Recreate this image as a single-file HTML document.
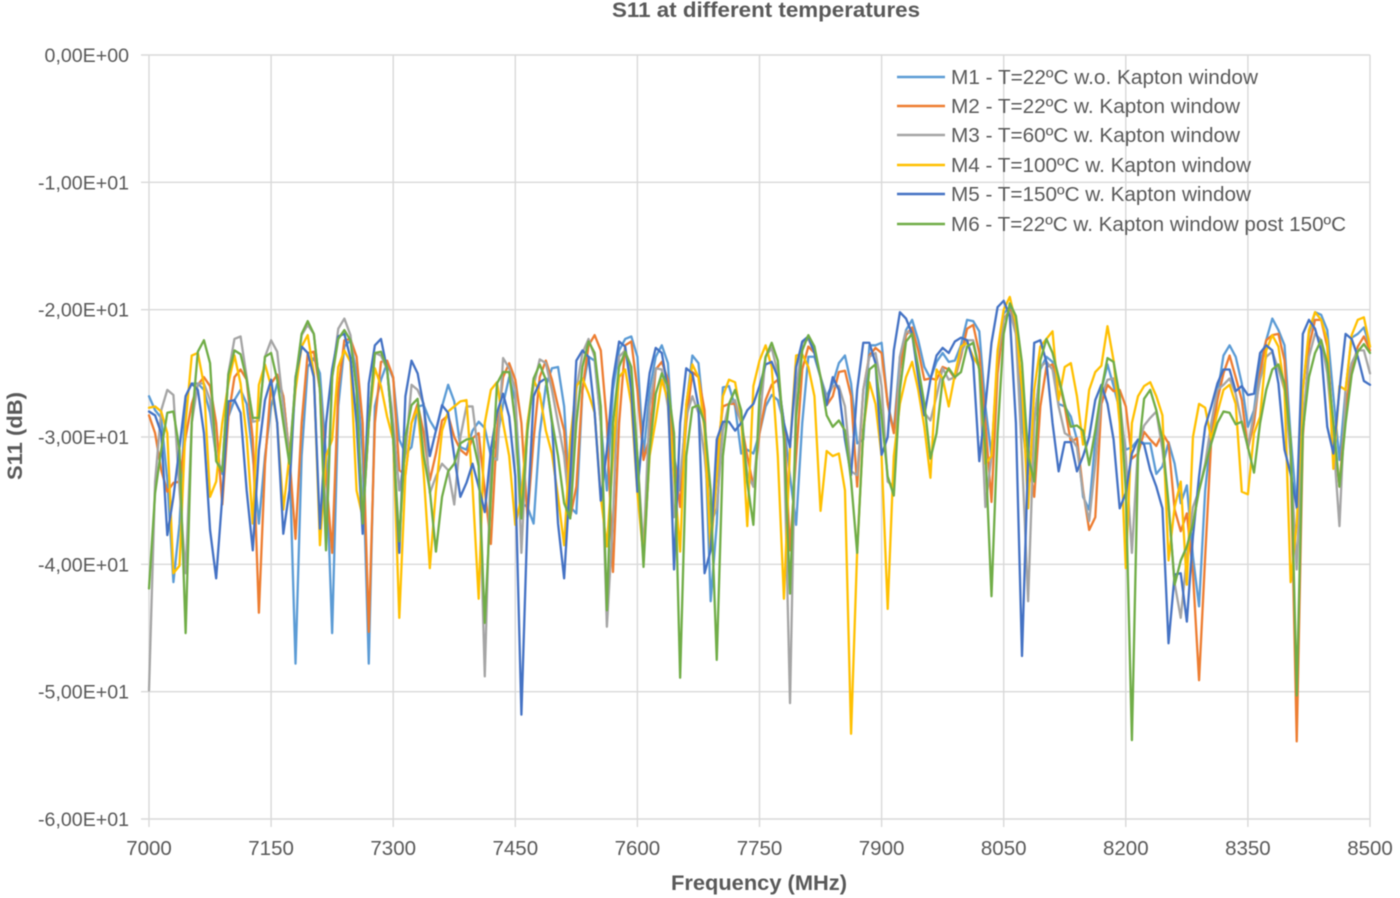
<!DOCTYPE html>
<html lang="en">
<head>
<meta charset="utf-8">
<title>S11 at different temperatures</title>
<style>
html,body{margin:0;padding:0;background:#fff;}
body{width:1400px;height:898px;overflow:hidden;}
svg{display:block;font-family:"Liberation Sans",sans-serif;filter:blur(0.5px);}
</style>
</head>
<body>
<svg id="chart" xmlns="http://www.w3.org/2000/svg" width="1400" height="898" viewBox="0 0 1400 898">
  <rect width="1400" height="898" fill="#fff"/>
  <g id="grid"></g>
  <g id="series"></g>
  <g id="yticks"></g>
  <g id="xticks"></g>
  <g id="legend"></g>
  <text x="766" y="17" text-anchor="middle" font-size="21" font-weight="bold" fill="#595959" textLength="308" lengthAdjust="spacingAndGlyphs">S11 at different temperatures</text>
  <text x="759" y="890" text-anchor="middle" font-size="21" font-weight="bold" fill="#595959" textLength="176" lengthAdjust="spacingAndGlyphs">Frequency (MHz)</text>
  <text transform="translate(22,436) rotate(-90)" text-anchor="middle" font-size="21" font-weight="bold" fill="#595959" textLength="88" lengthAdjust="spacingAndGlyphs">S11 (dB)</text>
</svg>
<script>
const xStart = 7000;
const xStep = 7.5;
const xTickLabels = [7000,7150,7300,7450,7600,7750,7900,8050,8200,8350,8500];
const yTickValues = [0,-10,-20,-30,-40,-50,-60];
const yTickLabels = ["0,00E+00","-1,00E+01","-2,00E+01","-3,00E+01","-4,00E+01","-5,00E+01","-6,00E+01"];
const seriesNames = ["M1 - T=22ºC w.o. Kapton window","M2 - T=22ºC w. Kapton window","M3 - T=60ºC w. Kapton window","M4 - T=100ºC w. Kapton window","M5 - T=150ºC w. Kapton window","M6 - T=22ºC w. Kapton window post 150ºC"];
const seriesColors = ["#5b9bd5","#ed7d31","#a5a5a5","#ffc000","#4472c4","#70ad47"];
const legendWidths = [307,289,289,300,300,395];

const m1 = [-26.8,-27.9,-28.5,-33.4,-41.4,-36.8,-26.8,-25.8,-25.8,-26.3,
-28.1,-31.5,-32.9,-28.4,-27.1,-26.3,-27.4,-31.5,-36.8,-31.5,
-27.6,-25.8,-26.8,-31.5,-47.8,-31.5,-24.5,-23.8,-25,-31.5,
-45.4,-27.6,-22.9,-22.4,-25,-31.5,-47.8,-27.6,-25.5,-24.2,
-25.4,-30.2,-31.3,-30.8,-27.6,-27.5,-28.7,-29.5,-27.6,-25.9,
-27.2,-30.8,-31,-29.5,-28.8,-29.3,-31.5,-30.2,-27.4,-25.3,
-27.1,-35.2,-35.5,-36.8,-29.7,-26,-24.6,-24.5,-27.6,-35.5,
-36,-26.3,-23.7,-24,-28.9,-34.2,-26.3,-23.2,-22.3,-22.1,
-23.7,-31.5,-26.3,-23.7,-22.8,-24.2,-31.5,-34.2,-27.6,-23.6,
-24.2,-28.9,-42.9,-36.8,-26.1,-26,-27.6,-31.3,-31,-31.3,
-29.7,-27.6,-26.7,-27.1,-28.9,-33.1,-36.9,-28.9,-23.7,-23.7,
-25.3,-26.8,-25.8,-24.2,-23.6,-25.8,-30.5,-30.2,-22.8,-22.8,
-22.6,-27.4,-29.5,-23.7,-21.6,-20.8,-22.4,-24.5,-25.4,-24.1,
-23.4,-24.1,-24,-22.8,-20.8,-20.9,-21.7,-27.6,-31.5,-24.2,
-20.3,-19.8,-21.3,-28.9,-32.9,-28.9,-24.7,-23.7,-24.1,-27.4,
-27.6,-28.4,-30.2,-34.7,-35.7,-30.2,-26.3,-24.3,-26,-27.9,
-31,-30.8,-30.2,-30.5,-30.5,-32.9,-32.3,-30.4,-32.1,-35.2,
-33.8,-39.4,-43.3,-34.2,-29.7,-26.6,-23.6,-22.8,-23.7,-25.8,
-29.2,-27.9,-24.2,-22.4,-20.7,-21.6,-22.8,-30,-35.6,-26.3,
-21.9,-20.2,-20.4,-21.6,-26.8,-31.8,-26.3,-22.2,-21.9,-21.4,-22.9];

const m2 = [-28.3,-29.7,-32.6,-34.3,-33.6,-33.5,-30,-27.4,-25.9,-25.3,
-26,-28.9,-35.3,-28.4,-25.3,-24.7,-25.5,-30.2,-43.8,-32.1,
-25.8,-25.1,-26.8,-31.5,-38,-28.9,-23.4,-23.3,-26.3,-33.1,
-39.1,-26.3,-22.4,-22.3,-23.7,-28.9,-45.3,-28.9,-24.1,-24,
-25.3,-32.6,-33,-28.9,-27.4,-29.7,-33.4,-31.3,-28.7,-28.3,
-30,-31,-31.4,-30.1,-29.7,-34.2,-38.4,-29.5,-25.3,-24.2,
-25.5,-28.9,-36.3,-30.2,-25.3,-24,-25.5,-27.6,-29.5,-36.3,
-33.9,-26.3,-22.8,-22,-23.2,-28.9,-40.6,-28.9,-22.8,-22.5,
-26.3,-31.8,-30,-24.7,-24.1,-25.5,-31.5,-35.5,-28.9,-24.9,
-25.3,-27.9,-38.9,-31.5,-27.6,-27.4,-27.4,-28.9,-31.5,-33.9,
-29.7,-27.1,-25.9,-25.5,-28.9,-38.9,-31.5,-24.7,-22.9,-23.4,
-25.3,-27.5,-26.8,-24.9,-24.8,-26.8,-33.9,-26.3,-23.6,-23,
-23.4,-27.4,-29.7,-24.7,-22,-21.4,-23.2,-25.5,-25.4,-25.5,
-24.5,-24.7,-25.4,-23.7,-21.5,-21.2,-23.4,-28.9,-35.1,-25,
-20.8,-20,-21.9,-26.3,-31.5,-34.7,-27.6,-24.5,-24.3,-25.5,
-27.6,-30.4,-30.1,-34.2,-37.3,-36.3,-27.4,-25.9,-26.4,-26.3,
-27.6,-31.7,-31.3,-29.6,-30.2,-30.7,-29.7,-30.5,-35.7,-37.4,
-36,-40.7,-49.1,-39.4,-30.2,-27.1,-25,-23.6,-25.3,-27.1,
-30.9,-28.9,-25,-22.4,-22,-21.9,-24,-31.5,-53.9,-30,
-22.9,-20.8,-20.8,-22.9,-29.7,-33.9,-27.6,-24.7,-22.9,-22.1,-23.2];

const m3 = [-49.9,-33.5,-27.9,-26.3,-26.7,-34.2,-40.7,-28.9,-25.8,-25.8,
-27.1,-31.5,-32.7,-25,-22.3,-22.1,-25.3,-28.8,-28.7,-23.7,
-22.4,-23.3,-27.6,-31.5,-25.8,-22,-21.2,-21.9,-26.3,-36.8,
-25.3,-21.5,-20.7,-22,-26.3,-36.8,-28.9,-23.4,-23.6,-24.7,
-28.9,-34.2,-31.3,-25.9,-26.3,-27.4,-34.4,-33.1,-32.1,-32.6,
-35.3,-30,-27.6,-27.6,-31.5,-48.8,-31.5,-31.8,-23.8,-24.6,
-26.3,-39.1,-28.9,-26,-23.9,-24.2,-26.3,-28.9,-31.5,-36.3,
-26.3,-23.4,-22.3,-23.7,-28.9,-44.9,-36.5,-23.7,-23.2,-25,
-31.5,-38.9,-27.6,-24.6,-24.7,-27.6,-36.3,-33.1,-28.4,-26.8,
-28.1,-31.5,-36.8,-35.6,-29.5,-27.4,-27.1,-28.9,-32.9,-33.9,
-28.9,-23.7,-23,-25,-30.2,-50.9,-26.3,-22.6,-22.3,-23.4,
-25.3,-27,-26,-26,-27.6,-32.7,-33,-26.3,-23.7,-23.4,
-26,-33.5,-33.9,-23.7,-21.7,-21.9,-25,-28.1,-28.7,-26.8,
-24.6,-25.5,-25.3,-23.4,-22.4,-22.4,-24.7,-35.5,-31.5,-23.7,
-20.8,-20.2,-21.9,-31.5,-42.9,-28.9,-24.5,-24.1,-24.7,-27.6,
-29.7,-30,-30.8,-34.4,-36.6,-32.1,-26.8,-25.5,-25.4,-27.1,
-31.5,-39.1,-30.8,-29.1,-28.5,-28,-31,-35.5,-41.5,-44.2,
-39.4,-35.5,-34.2,-32.1,-28.9,-26.3,-25.9,-25.4,-26.6,-28.9,
-30.8,-28.1,-25.5,-23.7,-23.3,-24.7,-26.3,-31.5,-40.4,-28.9,
-23.7,-21.9,-22.4,-25,-30.2,-37,-26.3,-24.2,-23.2,-23.2,-25];

const m4 = [-27.7,-27.6,-28,-29.7,-40.7,-40.1,-28.9,-23.6,-23.4,-25.9,
-34.7,-33.5,-28.9,-25.8,-23.6,-25.8,-30,-36.8,-25.9,-24.3,
-26,-28.9,-35.7,-31.5,-26.3,-22.9,-22,-25,-38.5,-31.5,
-30.2,-24.5,-23.2,-24.1,-34.2,-36.3,-28.9,-24.6,-26,-28.4,
-30.2,-44.2,-32.9,-28.9,-27.7,-32.9,-40.3,-34.2,-29.5,-28,
-27.6,-27.2,-27.1,-33.9,-42.7,-28.9,-26.3,-25.7,-28.9,-31.5,
-36.9,-34.7,-28.9,-25.5,-26.6,-29.5,-31.3,-34.7,-38.5,-30.2,
-26,-25.4,-26.6,-28.1,-34.7,-38.6,-31.5,-25.3,-24.7,-27.4,
-34.4,-39.4,-31.5,-28.7,-25.5,-27.1,-32.9,-39,-27.4,-24.3,
-25.3,-29.5,-38.9,-33.1,-26.8,-25.5,-25.7,-28.4,-37,-26,
-24,-22.8,-24.5,-31.5,-42.7,-30.8,-23.6,-23.5,-24.5,-26.8,
-35.8,-31.1,-31.5,-31.3,-34.2,-53.3,-38.9,-29.5,-25.7,-27.4,
-31.5,-43.5,-31.5,-27.4,-25.3,-24.1,-26.3,-29.2,-33.2,-24.7,
-25.4,-27.6,-25.1,-22.9,-22.6,-23.7,-24.5,-32.1,-31.5,-23.2,
-20,-19,-21.1,-26.3,-35.6,-26.3,-22.9,-22.3,-21.7,-27.1,
-24.5,-24.2,-26.8,-30.6,-26.3,-24.9,-24.4,-21.3,-24,-28.9,
-40.3,-28.9,-26.8,-26,-25.7,-26.8,-28.3,-39.7,-35.5,-33.5,
-41.6,-30,-27.4,-27.7,-30.2,-28.1,-26.3,-25.9,-27.4,-34.3,
-34.5,-29.7,-28.4,-23.2,-22,-22.9,-26.3,-41.4,-36.8,-26.3,
-21.6,-20.2,-20.8,-22.4,-32.5,-26,-26.3,-22,-20.8,-20.6,-22.9];

const m5 = [-28,-28.3,-29.7,-37.7,-34.7,-30.8,-26.8,-25.8,-26.3,-29.7,
-37.3,-41.1,-34.7,-27.2,-27.1,-28.1,-34.2,-38.9,-31,-27.1,
-25.5,-28.9,-37.6,-34.2,-25.3,-22.9,-23.4,-25.3,-37.2,-28.9,
-24.7,-22.1,-21.9,-23.8,-28.9,-37.6,-25.8,-22.8,-22.3,-24.7,
-30,-39.1,-26.8,-24,-25,-27.6,-31.5,-29.5,-27.5,-28.1,
-31.5,-34.7,-33.6,-32.1,-33.9,-35.9,-31,-28.1,-26.6,-28.4,
-33.1,-51.8,-36.3,-26.8,-25.7,-25.4,-28.9,-36.8,-41.1,-33.1,
-24,-23.2,-23.7,-28.1,-35,-31,-25.5,-22.5,-22.9,-26.3,
-34.3,-28.9,-25,-23,-23.4,-26.3,-40.4,-28.9,-24.6,-25,
-27.6,-40.7,-38.9,-30.2,-28.8,-28.8,-29.5,-28.9,-27.9,-27.4,
-26,-24.3,-24.1,-25.3,-28.9,-30.8,-24.5,-22.5,-22.1,-23.4,
-25.3,-27.5,-25.3,-26.3,-30.2,-33,-26.3,-22.6,-22.6,-24.2,
-31.4,-30,-23.2,-20.2,-20.7,-21.9,-25.3,-28.3,-25.5,-23.6,
-23,-23.4,-22.5,-22.2,-22.4,-24.1,-31.9,-27.6,-22.6,-19.8,
-19.3,-20.5,-28.9,-47.2,-31.5,-22.6,-22.4,-24.1,-28.9,-32.7,
-30.4,-30.4,-32.7,-31.5,-30,-27.1,-25.9,-27.4,-30.2,-35.6,
-34.4,-31.3,-30.2,-30.6,-32.6,-33.9,-35.6,-46.2,-40.8,-40.7,
-44.5,-37.8,-33.1,-29.2,-27.6,-25.8,-24.7,-24.7,-26.4,-26,
-26.7,-26.6,-23.4,-22.8,-23.2,-25.8,-31,-32.9,-35.5,-21.9,
-20.8,-21.5,-23.2,-29.2,-31.3,-26.3,-21.9,-22.3,-23.7,-25.6,-25.9];

const m6 = [-41.9,-34.4,-31,-28.1,-28,-31,-45.4,-28.9,-23.3,-22.4,
-24.2,-31.9,-32.7,-25.1,-23.2,-23.5,-25.5,-28.5,-28.5,-23.7,
-23.4,-25.5,-28.9,-32.1,-25.5,-21.9,-20.9,-21.9,-26.3,-38.9,
-25.3,-22.3,-21.6,-22.4,-26.3,-36.8,-28.9,-23.4,-23.3,-24.6,
-30.2,-38.2,-30,-27.5,-27,-31.5,-34.2,-39,-34.7,-32.7,
-32.1,-30.5,-30.2,-30.1,-32.3,-44.6,-34.7,-25.8,-24.9,-24.9,
-28.9,-36.4,-29.5,-25.4,-24.3,-25.5,-28.7,-31.5,-35.2,-36.4,
-28.9,-24.5,-22.5,-23.4,-27.6,-43.6,-28.9,-24.5,-23.3,-24.5,
-31.5,-40.2,-31,-26.6,-25,-26,-29.7,-48.9,-31.5,-27.7,
-27.5,-28.9,-34.2,-47.5,-31.5,-27.4,-26.3,-27.9,-33.6,-36.9,
-26.8,-23.7,-22.6,-24,-30,-42.3,-28.4,-23.2,-22,-22.9,
-25.3,-28.3,-29.2,-28.7,-29.5,-33.4,-39.1,-29.5,-24.7,-24.3,
-28.4,-33.1,-34.6,-26.3,-22.5,-21.9,-24.5,-27.4,-31.7,-29.7,
-25.5,-24.6,-25.3,-24.9,-22.9,-22.6,-24.7,-31,-42.5,-29.7,
-21.9,-19.5,-20.5,-24.2,-31.5,-33.5,-24,-22.3,-23.4,-25.3,
-27.4,-29.2,-29.1,-29.5,-32.2,-29.5,-26.3,-23.8,-24.1,-26.8,
-34.2,-53.8,-31.5,-27,-26.3,-27.9,-30.2,-35.2,-41.6,-39.7,
-38.6,-36.8,-34.2,-32.3,-30.5,-28.9,-28,-28.1,-29,-28.8,
-30.8,-32.8,-28.9,-26.3,-24.7,-24.3,-25.8,-30.2,-50.3,-29.5,
-25.3,-23.4,-22.4,-24.2,-28.9,-33.9,-28.9,-25.1,-23.3,-22.7,-23.4];

const allSeries = [m1,m2,m3,m4,m5,m6];
const seriesKeys = ["m1","m2","m3","m4","m5","m6"];

const SVGNS = "http://www.w3.org/2000/svg";
const plotLeft = 149, plotRight = 1370, plotTop = 55, plotBottom = 819;
const xMin = 7000, xMax = 8500, yMin = -60, yMax = 0;
function xScale(f){ return plotLeft + (f - xMin) / (xMax - xMin) * (plotRight - plotLeft); }
function yScale(v){ return plotTop + (yMax - v) / (yMax - yMin) * (plotBottom - plotTop); }
function make(tag, parent, attrs){
  const el = document.createElementNS(SVGNS, tag);
  for (const k in attrs) el.setAttribute(k, attrs[k]);
  parent.appendChild(el);
  return el;
}
const gridG = document.getElementById('grid');
const seriesG = document.getElementById('series');
const yG = document.getElementById('yticks');
const xG = document.getElementById('xticks');
const legendG = document.getElementById('legend');

yTickValues.forEach(function(v, i){
  const y = yScale(v);
  const line = make('line', gridG, {x1:141, x2:plotRight, y1:y, y2:y, stroke:'#d9d9d9', 'stroke-width':1.4});
  
  
  const t = make('text', yG, {x:129, y:y+7, 'text-anchor':'end', 'font-size':19.6, fill:'#595959'});
  
  
  t.textContent = yTickLabels[i];
});
xTickLabels.forEach(function(f){
  const x = xScale(f);
  const line = make('line', gridG, {x1:x, x2:x, y1:plotTop, y2:827, stroke:'#d9d9d9', 'stroke-width':1.4});
  
  
  const t = make('text', xG, {x:x, y:855, 'text-anchor':'middle', 'font-size':20.5, fill:'#595959'});
  
  
  t.textContent = String(f);
});
allSeries.forEach(function(vals, s){
  const pts = vals.map(function(v, i){
    return xScale(xStart + i * xStep).toFixed(2) + ',' + yScale(v).toFixed(2);
  }).join(' ');
  const pl = make('polyline', seriesG, {points:pts, fill:'none', stroke:seriesColors[s], 'stroke-width':2.3, 'stroke-linejoin':'round', 'stroke-linecap':'round'});
  
  
});
const legendYs = [77,106,135,165,194,224];
seriesNames.forEach(function(name, s){
  const ly = legendYs[s];
  const sw = make('line', legendG, {x1:897, x2:945, y1:ly, y2:ly, stroke:seriesColors[s], 'stroke-width':2.4});
  
  
  const t = make('text', legendG, {x:951, y:ly+7, 'font-size':20.5, fill:'#595959', textLength:legendWidths[s], lengthAdjust:'spacingAndGlyphs'});
  
  
  t.textContent = name;
});
</script>
</body>
</html>
